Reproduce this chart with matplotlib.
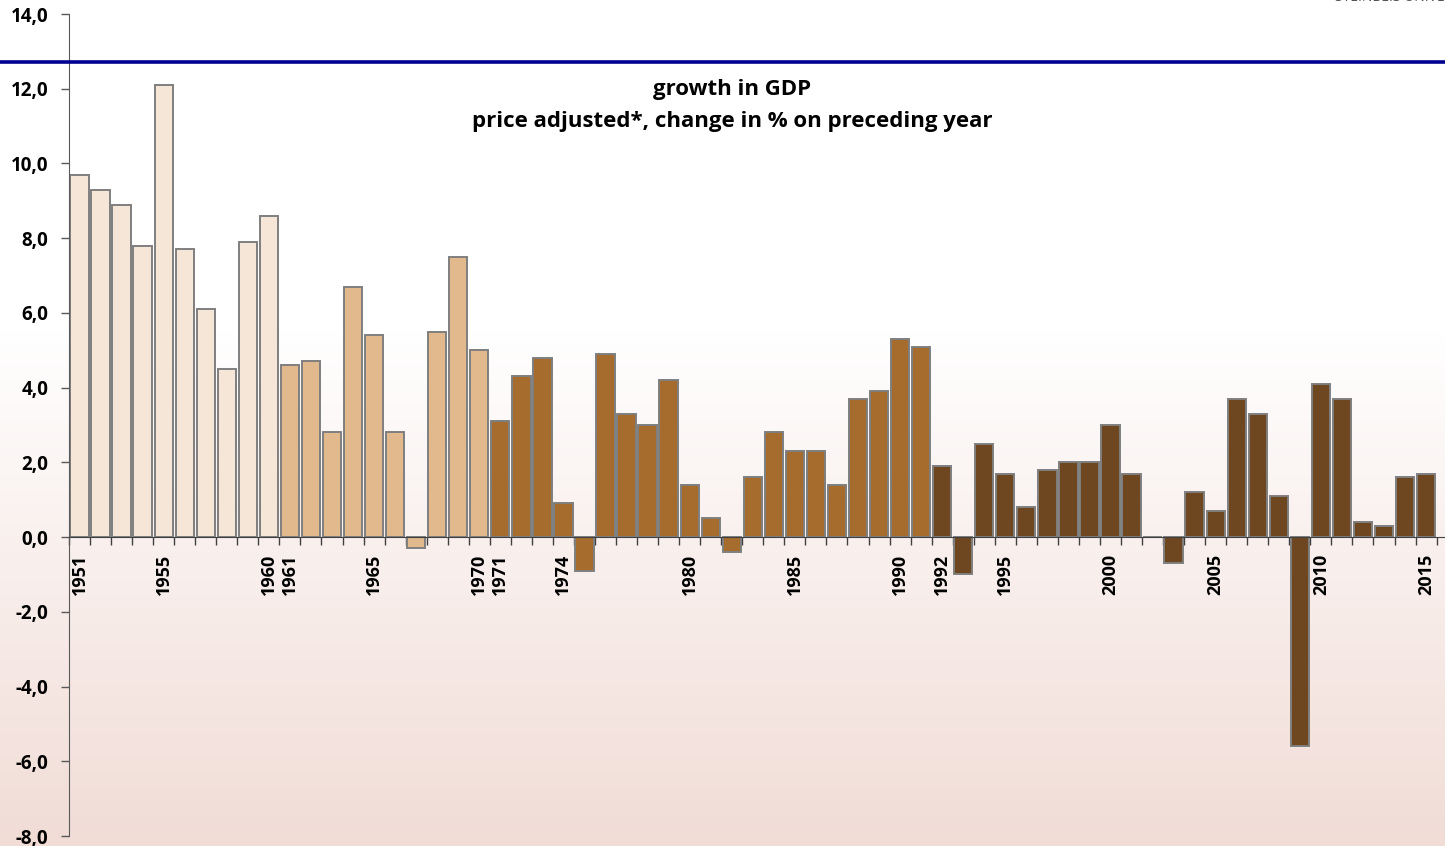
import numpy as np
import matplotlib.pyplot as plt
from matplotlib.lines import Line2D
from matplotlib.ticker import FuncFormatter

plt.rcParams['font.family'] = ['Open Sans', 'DejaVu Sans']

# GDP growth, price adjusted, % change on preceding year
years = list(range(1951, 2016))
growth = [9.7, 9.3, 8.9, 7.8, 12.1, 7.7, 6.1, 4.5, 7.9, 8.6,
          4.6, 4.7, 2.8, 6.7, 5.4, 2.8, -0.3, 5.5, 7.5, 5.0,
          3.1, 4.3, 4.8, 0.9, -0.9, 4.9, 3.3, 3.0, 4.2, 1.4,
          0.5, -0.4, 1.6, 2.8, 2.3, 2.3, 1.4, 3.7, 3.9, 5.3,
          5.1, 1.9, -1.0, 2.5, 1.7, 0.8, 1.8, 2.0, 2.0, 3.0,
          1.7, 0.0, -0.7, 1.2, 0.7, 3.7, 3.3, 1.1, -5.6, 4.1,
          3.7, 0.4, 0.3, 1.6, 1.7]
label_years = [1951, 1955, 1960, 1961, 1965, 1970, 1971, 1974, 1980, 1985,
               1990, 1992, 1995, 2000, 2005, 2010, 2015]
y_ticks = [-8, -6, -4, -2, 0, 2, 4, 6, 8, 10, 12, 14]

def period_colour(y):
    if y <= 1960:
        return '#f5e6d8'
    if y <= 1970:
        return '#e1b98c'
    if y <= 1991:
        return '#a66c2d'
    return '#6e461f'

colours = [period_colour(y) for y in years]

fig = plt.figure(figsize=(14.45, 8.46), dpi=100)

# background gradient (white on top, soft pink towards bottom)
bg = fig.add_axes([0, 0, 1, 1], zorder=0)
grad = np.ones((256, 1, 3))
t = np.linspace(0, 1, 256)
ramp = np.clip((t - 0.39) / 0.61, 0, 1)
top_c = np.array([1.0, 1.0, 1.0])
bot_c = np.array([241, 220, 214]) / 255
for i in range(3):
    grad[:, 0, i] = top_c[i] + (bot_c[i] - top_c[i]) * ramp
bg.imshow(grad, aspect='auto', extent=[0, 1, 0, 1], origin='upper')
bg.axis('off')

ax = fig.add_axes([69 / 1445, 10 / 846, 1 - 69 / 1445, 822 / 846], zorder=1)
ax.patch.set_alpha(0)

ax.bar(years, growth, width=0.87, color=colours, edgecolor='#7f7f7f',
       linewidth=1.4, zorder=2)

ax.set_xlim(1950.52, 2015.9)
ax.set_ylim(-8, 14)

ax.spines['top'].set_visible(False)
ax.spines['right'].set_visible(False)
ax.spines['bottom'].set_position(('data', 0))
ax.spines['bottom'].set_color('#404040')
ax.spines['left'].set_color('#595959')
ax.spines['bottom'].set_zorder(3)

ax.set_yticks(y_ticks)
ax.yaxis.set_major_formatter(FuncFormatter(lambda v, p: f'{v:.1f}'.replace('.', ',')))
ax.tick_params(axis='y', length=6, width=1, color='#595959', labelsize=13.5, pad=9)
for lbl in ax.get_yticklabels():
    lbl.set_fontweight('bold')

ax.set_xticks(label_years)
ax.set_xticklabels([str(y) for y in label_years], rotation=90, fontsize=13,
                   fontweight='bold', va='top')
ax.set_xticks(np.arange(1950.5, 2016, 1), minor=True)
ax.tick_params(axis='x', which='major', length=0, pad=12)
ax.tick_params(axis='x', which='minor', length=6, width=1, color='#404040')

# navy rule across the top
fig.add_artist(Line2D([0, 1], [1 - 62 / 846] * 2, color='#000090', lw=2.6,
                      transform=fig.transFigure))

fig.text(732 / 1445, 1 - 89 / 846, 'growth in GDP', ha='center', va='center',
         fontsize=16, fontweight='bold')
fig.text(732 / 1445, 1 - 121 / 846, 'price adjusted*, change in % on preceding year',
         ha='center', va='center', fontsize=16, fontweight='bold')

# cropped logo text at top right
fig.text(1335 / 1445, 1.003, 'STEINBEIS UNIVERSITY', ha='left', va='center',
         fontsize=10, color='#555555')

fig.savefig('out.png', dpi=100)
